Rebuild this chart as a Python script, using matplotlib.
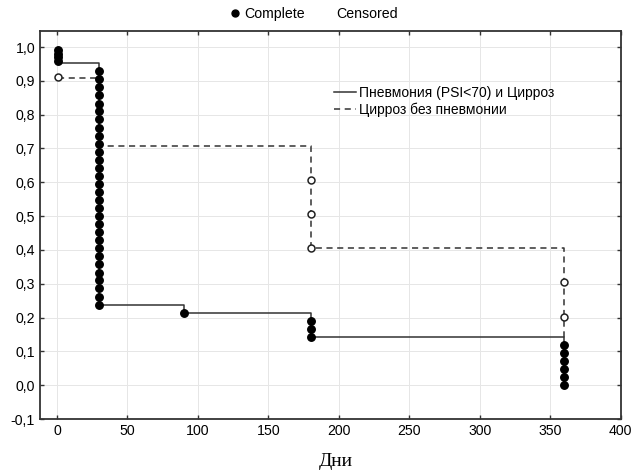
import matplotlib
matplotlib.use('Agg')
from matplotlib import pyplot as plt
from matplotlib.lines import Line2D

plt.rcParams['font.family'] = ['Liberation Sans', 'DejaVu Sans']

# Пневмония (PSI<70) и Цирроз -- step curve
solid_x = [1, 30, 30, 90, 90, 180, 180, 360, 360]
solid_y = [0.952, 0.952, 0.238, 0.238, 0.214, 0.214, 0.143, 0.143, 0.0]

# complete (event) markers
complete_x = [1, 1, 1, 1] + [30] * 30 + [90] + [180] * 3 + [360] * 6
complete_y = [0.99, 0.98, 0.97, 0.96,
              0.929, 0.905, 0.881, 0.857, 0.833, 0.810, 0.786, 0.762, 0.738, 0.714,
              0.690, 0.667, 0.643, 0.619, 0.595, 0.571, 0.548, 0.524, 0.500, 0.476,
              0.452, 0.429, 0.405, 0.381, 0.357, 0.333, 0.310, 0.286, 0.262, 0.238,
              0.214,
              0.190, 0.167, 0.143,
              0.119, 0.095, 0.071, 0.048, 0.024, 0.0]

# Цирроз без пневмонии -- step curve
dash_x = [1, 30, 30, 180, 180, 360, 360]
dash_y = [0.909, 0.909, 0.707, 0.707, 0.405, 0.405, 0.10]

# censored markers
cens_x = [1, 180, 180, 180, 360, 360]
cens_y = [0.912, 0.607, 0.507, 0.405, 0.304, 0.203]

xticks = [0, 50, 100, 150, 200, 250, 300, 350, 400]
yticks = [-0.1, 0.0, 0.1, 0.2, 0.3, 0.4, 0.5, 0.6, 0.7, 0.8, 0.9, 1.0]

fig = plt.figure(figsize=(6.32, 4.74), dpi=100)
ax = fig.add_axes([0.0633, 0.116, 0.9187, 0.819])

ax.grid(True, color='#e6e6e6', linewidth=0.7)
ax.set_axisbelow(True)

l1, = ax.plot(solid_x, solid_y, color='#333333', lw=1.1, zorder=3)
l2, = ax.plot(dash_x, dash_y, color='#333333', lw=1.1, ls=(0, (4, 3)), zorder=3)
ax.plot(cens_x, cens_y, 'o', ms=5, mfc='white', mec='#222222', mew=1.1, zorder=4)
ax.plot(complete_x, complete_y, 'o', ms=5.4, color='black', zorder=5)

ax.set_xlim(-12, 400)
ax.set_ylim(-0.1, 1.048)
ax.set_xticks(xticks)
ax.set_yticks(yticks)
ax.set_yticklabels([f'{v:.1f}'.replace('.', ',') for v in yticks])
ax.tick_params(direction='in', length=3, width=1, labelsize=10.2,
               top=True, right=True, colors='#333333', labelcolor='black')
for s in ax.spines.values():
    s.set_linewidth(1.3)
    s.set_color('#333333')

ax.set_xlabel('Дни', family=['Liberation Serif', 'DejaVu Serif'], fontsize=14)
ax.xaxis.set_label_coords(0.51, -0.088)

ax.legend([l1, l2], ['Пневмония (PSI<70) и Цирроз', 'Цирроз без пневмонии'],
          loc='upper left', bbox_to_anchor=(0.497, 0.872), frameon=False,
          fontsize=10, handlelength=1.6, handletextpad=0.2, labelspacing=0.2,
          borderaxespad=0)

h_comp = Line2D([], [], ls='none', marker='o', ms=5, color='black')
h_cens = Line2D([], [], ls='none', marker='o', ms=5, mfc='white', mec='white')
fig.legend([h_comp, h_cens], ['Complete', 'Censored'], loc='center',
           bbox_to_anchor=(0.495, 0.97), ncol=2, frameon=False, fontsize=10.2,
           handlelength=1.0, handletextpad=0.2, columnspacing=1.0)

plt.savefig('out.png', dpi=100)
plt.close()
